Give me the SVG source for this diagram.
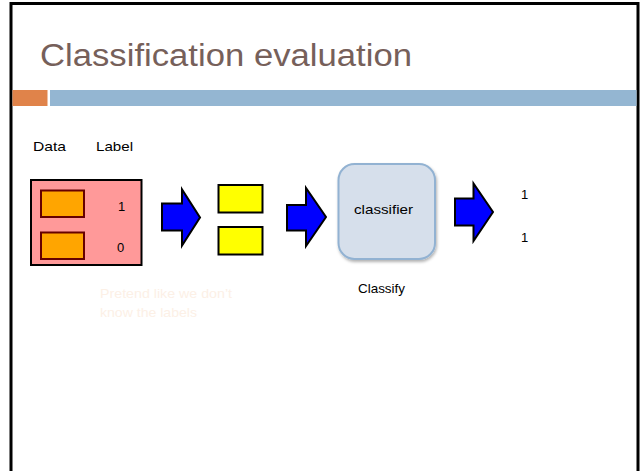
<svg xmlns="http://www.w3.org/2000/svg" width="642" height="471" viewBox="0 0 642 471">
<defs>
<style>
.t{font-family:"Liberation Sans",Arial,sans-serif;font-size:13px;fill:#000}
.arrow{fill:#0000ff;stroke:#000;stroke-width:2;stroke-linejoin:miter}
.item{fill:#ffa500;stroke:#660000;stroke-width:2}
.yel{fill:#ffff00;stroke:#000;stroke-width:2}
.faded{font-family:"Liberation Sans",Arial,sans-serif;font-size:13px;fill:#fcf0e6}
</style>
<filter id="sh" x="-20%" y="-20%" width="140%" height="140%">
<feDropShadow dx="1" dy="2" stdDeviation="1.5" flood-color="#000" flood-opacity="0.3"/>
</filter>
</defs>
<rect x="0" y="0" width="642" height="471" fill="#fff"/>
<g id="frame">
<path d="M11,471 V3.5 H638 V471" fill="none" stroke="#000" stroke-width="3"/>
<rect x="12.5" y="90" width="35" height="16" fill="#e0834a"/>
<rect x="50" y="90" width="586.5" height="16" fill="#94b6d2"/>
</g>
<g id="title">
<text x="40" y="66" font-family="'Liberation Sans',Arial,sans-serif" font-size="31" fill="#76605a" textLength="372" lengthAdjust="spacingAndGlyphs">Classification evaluation</text>
</g>
<g id="headers">
<text class="t" x="33" y="151" textLength="33" lengthAdjust="spacingAndGlyphs">Data</text>
<text class="t" x="96" y="151" textLength="37" lengthAdjust="spacingAndGlyphs">Label</text>
</g>
<g id="data">
<rect x="31" y="180" width="110.5" height="85" fill="#ff9999" stroke="#000" stroke-width="2"/>
<rect class="item" x="41" y="190.5" width="43" height="26.5"/>
<rect class="item" x="41" y="232.5" width="43" height="26.5"/>
<text class="t" x="118" y="211">1</text>
<text class="t" x="117" y="252">0</text>
</g>
<g id="note">
<text class="faded" x="100" y="298" textLength="132" lengthAdjust="spacingAndGlyphs">Pretend like we don’t</text>
<text class="faded" x="100" y="317" textLength="97" lengthAdjust="spacingAndGlyphs">know the labels</text>
</g>
<g id="features">
<rect class="yel" x="218.5" y="185" width="44" height="27.5"/>
<rect class="yel" x="218.5" y="227" width="44" height="27.5"/>
</g>
<g id="classifier">
<rect x="338.5" y="164" width="96.5" height="95" rx="16" ry="16" fill="#d6dfeb" stroke="#92b2d2" stroke-width="2" filter="url(#sh)"/>
<text class="t" x="354" y="214" font-size="14" textLength="59" lengthAdjust="spacingAndGlyphs">classifier</text>
<text class="t" x="358" y="293" textLength="47" lengthAdjust="spacingAndGlyphs">Classify</text>
</g>
<g id="output">
<text class="t" x="521" y="199">1</text>
<text class="t" x="521" y="242">1</text>
</g>
<g id="connectors">
<polygon class="arrow" points="162,203.5 182,203.5 182,189.5 200,217.5 182,245.5 182,230.5 162,230.5"/>
<polygon class="arrow" points="287,205 306,205 306,188 326,217 306,246 306,230.5 287,230.5"/>
<polygon class="arrow" points="455,198.5 473.5,198.5 473.5,183.5 493,212 473.5,241 473.5,225.5 455,225.5"/>
</g>
</svg>
